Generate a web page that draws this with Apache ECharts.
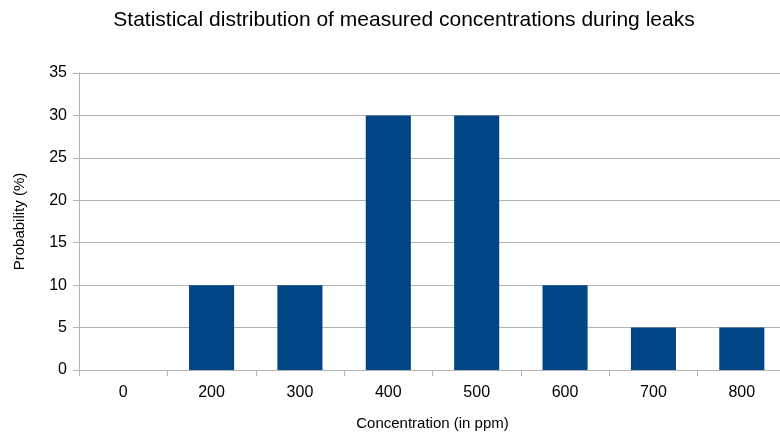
<!DOCTYPE html>
<html><head><meta charset="utf-8">
<script src="https://cdn.jsdelivr.net/npm/echarts@6/dist/echarts.min.js"></script>
<style>html,body{margin:0;padding:0;background:#fff}#c{width:780px;height:436px}</style>
</head><body><div id="c"></div>
<script>
const categories = ['0','200','300','400','500','600','700','800'];
const probability = [0,10,10,30,30,10,5,5];
const titleText = 'Statistical distribution of measured concentrations during leaks';
const xName = 'Concentration (in ppm)';
const yName = 'Probability (%)';

const chart = echarts.init(document.getElementById('c'), null, {renderer:'canvas'});
const font = 'Liberation Sans, Arial, sans-serif';
chart.setOption({
  animation:false,
  backgroundColor:'#ffffff',
  title:{text:titleText,left:399,top:5,textAlign:'center',
    textStyle:{fontFamily:font,fontSize:21,fontWeight:'normal',color:'#000'}},
  grid:{left:79,right:-6,top:73,bottom:66,containLabel:false,outerBoundsMode:'none'},
  xAxis:{type:'category',data:categories,
    name:xName,nameLocation:'middle',nameGap:46,
    nameTextStyle:{fontFamily:font,fontSize:15,color:'#000'},
    axisLine:{show:true,lineStyle:{color:'#b3b3b3'}},
    axisTick:{show:true,length:6,alignWithLabel:false,lineStyle:{color:'#b3b3b3'}},
    axisLabel:{fontFamily:font,fontSize:16,color:'#000',margin:15},
    splitLine:{show:false}},
  yAxis:{type:'value',min:0,max:35,interval:5,
    name:yName,nameLocation:'middle',nameGap:52,
    nameTextStyle:{fontFamily:font,fontSize:15,color:'#000'},
    axisLine:{show:true,lineStyle:{color:'#b3b3b3'}},
    axisTick:{show:true,length:6,lineStyle:{color:'#b3b3b3'}},
    axisLabel:{fontFamily:font,fontSize:16,color:'#000',margin:12},
    splitLine:{show:true,lineStyle:{color:'#b3b3b3'}}},
  series:[{type:'bar',data:probability,barWidth:'51%',
    itemStyle:{color:'#004586'}}]
});
</script></body></html>
